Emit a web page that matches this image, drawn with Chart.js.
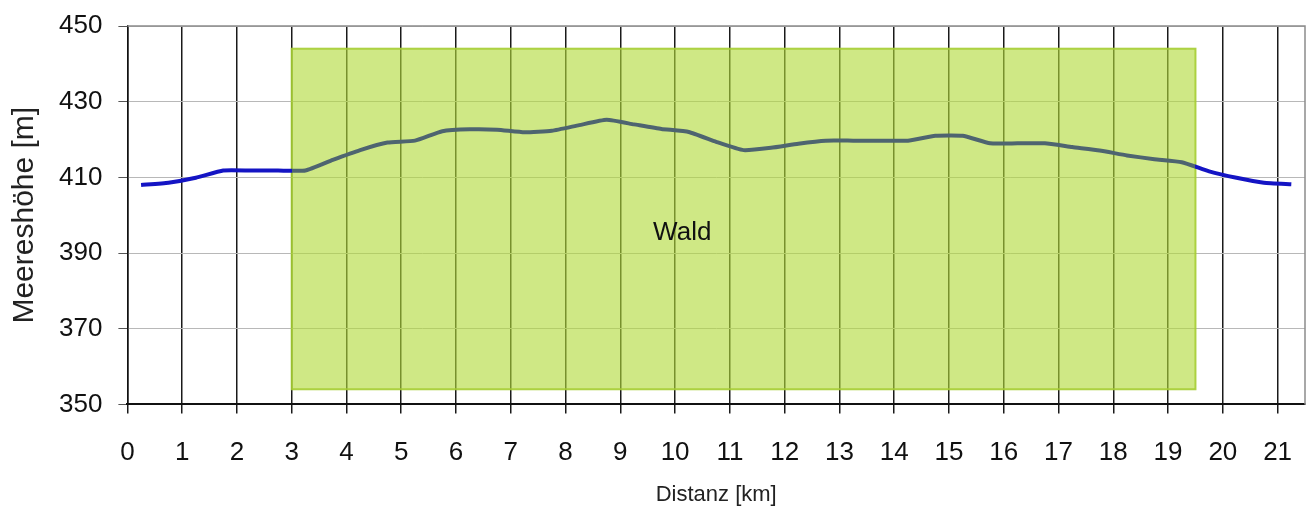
<!DOCTYPE html>
<html>
<head>
<meta charset="utf-8">
<script src="https://cdn.jsdelivr.net/npm/chart.js@4.4.1/dist/chart.umd.min.js"></script>
<style>
  html, body { margin: 0; padding: 0; background: #fff; }
  #wrap { width: 1312px; height: 509px; }
</style>
</head>
<body>
<div id="wrap"><canvas id="profile"></canvas></div>
<script>
// Data
const distances = [0.25, 0.75, 1.25, 1.75, 2.25, 2.75, 3.25, 3.75, 4.25, 4.75,
  5.25, 5.75, 6.25, 6.75, 7.25, 7.75, 8.25, 8.75, 9.25, 9.75,
  10.25, 10.75, 11.25, 11.75, 12.25, 12.75, 13.25, 13.75, 14.25, 14.75,
  15.25, 15.75, 16.25, 16.75, 17.25, 17.75, 18.25, 18.75, 19.25, 19.75,
  20.25, 20.75, 21.25];
const heights = [408.0, 408.6, 409.9, 411.8, 411.8, 411.8, 411.8, 414.6, 417.2, 419.2,
  419.7, 422.2, 422.7, 422.6, 421.9, 422.3, 423.8, 425.2, 424.0, 422.8,
  422.0, 419.4, 417.2, 417.8, 418.9, 419.7, 419.7, 419.7, 419.7, 421.0,
  421.0, 419.0, 419.0, 419.0, 418.0, 417.1, 415.8, 414.8, 414.0, 411.6,
  409.9, 408.6, 408.2];
const xTicks = [0, 1, 2, 3, 4, 5, 6, 7, 8, 9, 10, 11, 12, 13, 14, 15, 16, 17, 18, 19, 20, 21];
const yTicks = [350, 370, 390, 410, 430, 450];
const forestKm = [3, 19.5];
const forestHeight = [354, 444];
const forestName = 'Wald';
const forestLabelAt = [10.13, 395.3];

const FONT = '"Liberation Sans", Arial, sans-serif';
const BLUE = '#1414c4';
const SLATE = '#4e6470';

// forest box, label and frame
const forestBox = {
  id: 'forestBox',
  beforeDatasetsDraw(chart) {
    const { ctx, scales: { x, y } } = chart;
    const left = x.getPixelForValue(forestKm[0]);
    const right = x.getPixelForValue(forestKm[1]);
    const top = y.getPixelForValue(forestHeight[1]);
    const bottom = y.getPixelForValue(forestHeight[0]);
    ctx.save();
    ctx.fillStyle = 'rgba(178, 218, 58, 0.62)';
    ctx.fillRect(left, top, right - left, bottom - top);
    ctx.strokeStyle = 'rgba(165, 205, 50, 0.9)';
    ctx.lineWidth = 2;
    ctx.strokeRect(left, top, right - left, bottom - top);
    ctx.fillStyle = '#111';
    ctx.font = '26px ' + FONT;
    ctx.textAlign = 'center';
    ctx.textBaseline = 'middle';
    ctx.fillText(forestName, x.getPixelForValue(forestLabelAt[0]), y.getPixelForValue(forestLabelAt[1]));
    ctx.restore();
  },
  afterDraw(chart) {
    const { ctx, chartArea: a } = chart;
    ctx.save();
    ctx.strokeStyle = '#8c8c8c';
    ctx.lineWidth = 1.5;
    ctx.beginPath();
    ctx.moveTo(a.left, a.top);
    ctx.lineTo(a.right, a.top);
    ctx.lineTo(a.right, a.bottom);
    ctx.stroke();
    ctx.restore();
  }
};

function lineColor(context) {
  const chart = context.chart;
  const a = chart.chartArea;
  if (!a) return BLUE;
  const x = chart.scales.x;
  const w = a.right - a.left;
  const f1 = (x.getPixelForValue(forestKm[0]) - a.left) / w;
  const f2 = (x.getPixelForValue(forestKm[1]) - a.left) / w;
  const g = chart.ctx.createLinearGradient(a.left, 0, a.right, 0);
  g.addColorStop(0, BLUE);
  g.addColorStop(f1, BLUE);
  g.addColorStop(f1, SLATE);
  g.addColorStop(f2, SLATE);
  g.addColorStop(f2, BLUE);
  g.addColorStop(1, BLUE);
  return g;
}

new Chart(document.getElementById('profile'), {
  type: 'line',
  data: {
    datasets: [{
      data: distances.map((d, i) => ({ x: d, y: heights[i] })),
      borderColor: lineColor,
      borderWidth: 4,
      pointRadius: 0,
      tension: 0.15,
      fill: false
    }]
  },
  options: {
    responsive: true,
    maintainAspectRatio: false,
    animation: false,
    layout: { padding: { top: 26, right: 7, left: 4, bottom: 1 } },
    plugins: { legend: { display: false }, tooltip: { enabled: false } },
    scales: {
      x: {
        type: 'linear',
        min: 0,
        max: 21.5,
        afterBuildTicks: axis => { axis.ticks = xTicks.map(v => ({ value: v })); },
        afterFit: axis => { axis.paddingRight = 0; },
        grid: { color: '#1a1a1a', lineWidth: 1.5, tickLength: 9 },
        border: { color: '#111', width: 2 },
        ticks: { color: '#111', font: { family: FONT, size: 26 }, padding: 24, maxRotation: 0, autoSkip: false },
        title: { display: true, text: 'Distanz [km]', color: '#222', font: { family: FONT, size: 22 }, padding: { top: -11, bottom: 0 } }
      },
      y: {
        min: 350,
        max: 450,
        afterBuildTicks: axis => { axis.ticks = yTicks.map(v => ({ value: v })); },
        afterFit: axis => { axis.paddingTop = 0; },
        grid: { color: '#b8b8b8', lineWidth: 1, tickColor: '#555', tickLength: 9 },
        border: { color: '#111', width: 1.5 },
        ticks: { color: '#111', font: { family: FONT, size: 26 }, padding: 16 },
        title: { display: true, text: 'Meereshöhe [m]', color: '#222', font: { family: FONT, size: 30 }, padding: { top: 3, bottom: 0 } }
      }
    }
  },
  plugins: [forestBox]
});
</script>
</body>
</html>
